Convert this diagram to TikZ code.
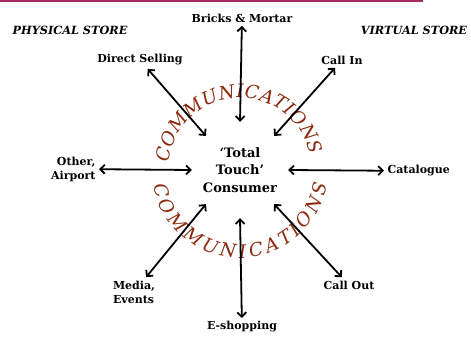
\documentclass[tikz,border=0pt]{standalone}
\usepackage{fontspec}
\setmainfont{DejaVu Serif}
\usetikzlibrary{arrows.meta,decorations.text}
\definecolor{commred}{HTML}{8B2A0E}
\definecolor{rulered}{HTML}{A52A5E}

\begin{document}
\begin{tikzpicture}[x=1pt,y=1pt,
  every node/.style={font=\fontsize{11}{14}\selectfont\bfseries},
  store/.style={font=\fontsize{11.3}{14}\selectfont\bfseries\itshape},
  link/.style={<->,line width=1.8pt,>={Straight Barb[length=4.5pt,width=9pt]}},
  hubnode/.style={circle,minimum size=96pt,inner sep=0pt,align=center,
    font=\fontsize{13}{17.5}\selectfont\bfseries}]
  \useasboundingbox (0,0) rectangle (471,337);
  \draw[rulered,line width=2pt] (0,336) -- (423,336);
  \node[store] (physical) at (70,307) {PHYSICAL STORE};
  \node[store] (virtual) at (414,307) {VIRTUAL STORE};
  \node[hubnode] (hub) at (240,167) {‘Total\\Touch’\\Consumer};
  \node (bricks) at (242,319) {Bricks \& Mortar};
  \node (direct) at (140,277) {Direct Selling};
  \node (callin) at (342,277) {Call In};
  \node[anchor=east,align=right] (other) at (99,168) {Other,\\Airport};
  \node[anchor=west] (catalogue) at (384,166) {Catalogue};
  \node[align=left] (media) at (134,45) {Media,\\Events};
  \node (callout) at (349,52) {Call Out};
  \node (eshop) at (242,10) {E-shopping};
  \path[decorate,decoration={text along path,text align={fit to path},
      text color=commred,text={|\fontsize{18.5}{18.5}\selectfont\itshape|COMMUNICATIONS}}]
    (hub.center) ++(174:72) arc[start angle=174,end angle=12,radius=72];
  \path[decorate,decoration={text along path,text align={fit to path},
      text color=commred,text={|\fontsize{18.5}{18.5}\selectfont\itshape|COMMUNICATIONS}}]
    (hub.center) ++(190:88) arc[start angle=190,end angle=351,radius=88];
  \draw[link] (hub.90) -- (bricks);
  \draw[link] (hub.135) -- (direct);
  \draw[link] (hub.45) -- (callin);
  \draw[link] (hub.180) -- (other);
  \draw[link] (hub.0) -- (catalogue);
  \draw[link] (hub.225) -- (media);
  \draw[link] (hub.270) -- (eshop);
  \draw[link] (hub.315) -- (callout);
\end{tikzpicture}
\end{document}
